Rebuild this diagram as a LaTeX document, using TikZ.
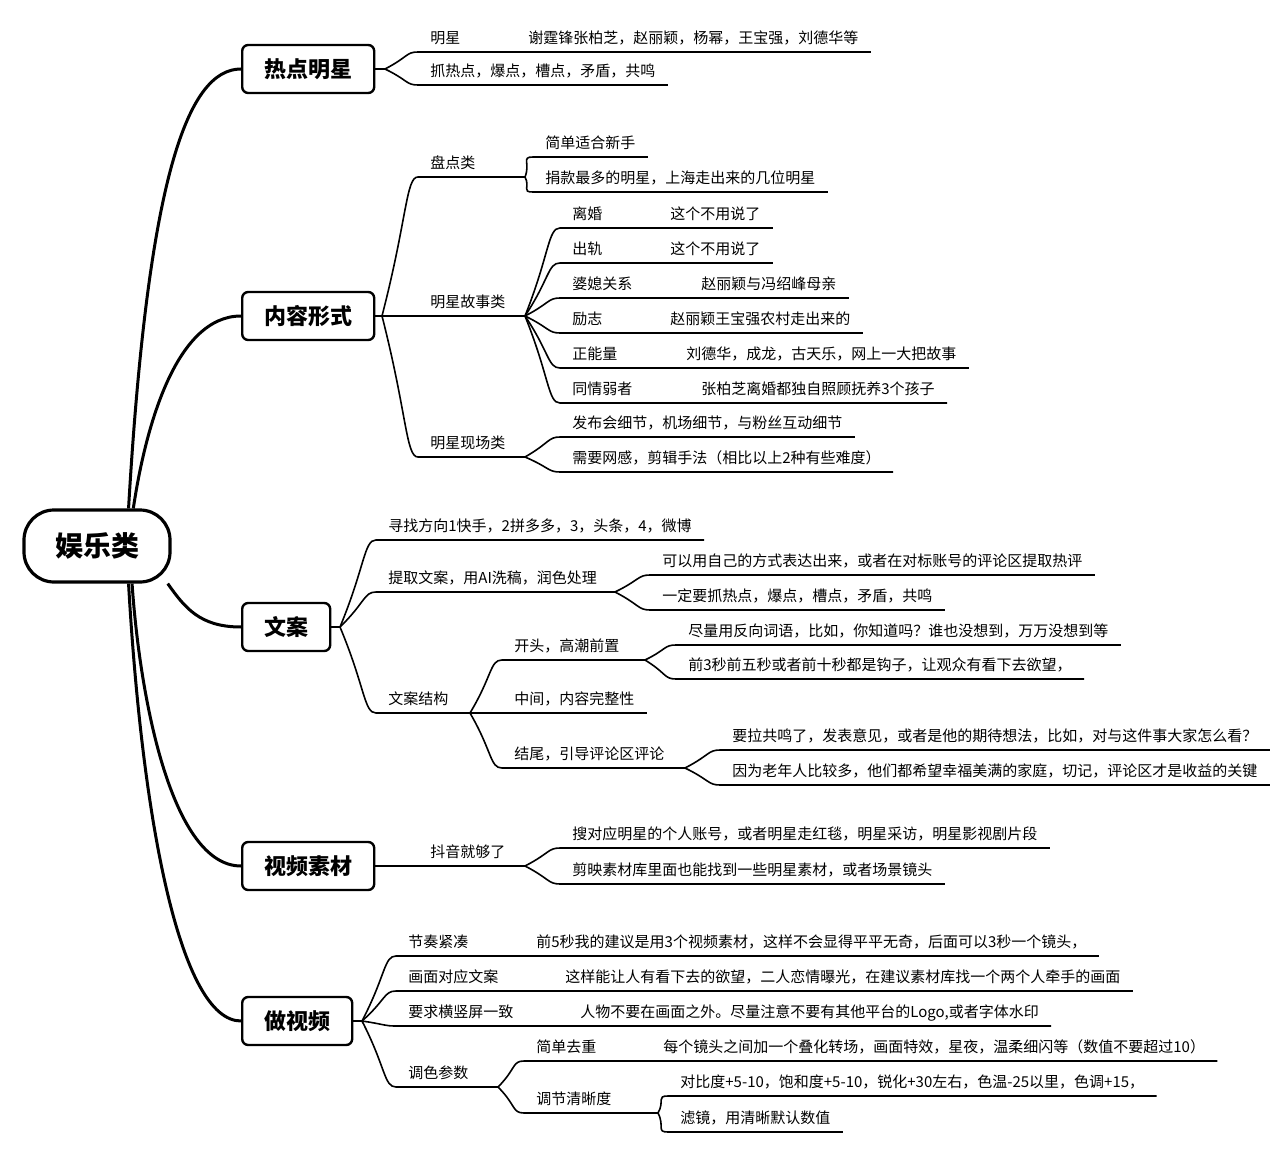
\documentclass[tikz,border=0pt]{standalone}
\usepackage{fontspec}
\setmainfont{Noto Sans CJK SC}
\usetikzlibrary{calc}

\tikzset{
  root/.style={draw, line width=1.6pt, rounded corners=15pt, minimum width=73pt, minimum height=36pt, font=\fontsize{14}{16}\selectfont\bfseries},
  topic/.style={draw, line width=1.2pt, rounded corners=3pt, anchor=west, inner xsep=11pt, minimum height=24pt, font=\fontsize{11}{13}\selectfont\bfseries},
  leaf/.style={anchor=south west, inner xsep=6pt, inner ysep=2.5pt, text height=6.5pt, text depth=1.5pt, font=\fontsize{7.5}{9}\selectfont},
  main/.style={line width=1.5pt},
  twig/.style={line width=0.8pt},
  fork/.style={to path={.. controls ($(\tikztostart)!0.7!(\tikztotarget)$) and ($(\tikztotarget)+(-6pt,0)$) .. (\tikztotarget)}}
}

\begin{document}
\begin{tikzpicture}[x=0.5pt,y=-0.5pt]
\useasboundingbox (0,0) rectangle (1280,1155);

% centre and main topics
\node[root] (root) at (97,546) {娱乐类};
\node[topic] (hot) at (241,69) {热点明星};
\node[topic] (form) at (241,316) {内容形式};
\node[topic] (copy) at (241,627) {文案};
\node[topic] (clip) at (241,866) {视频素材};
\node[topic] (make) at (241,1021) {做视频};

\draw[main] (root.50) .. controls (148,175) and (188,69) .. (hot.west);
\draw[main] (root.46) .. controls (145,430) and (175,316) .. (form.west);
\draw[main] (root.-28) .. controls (185,608) and (200,627) .. (copy.west);
\draw[main] (root.-47) .. controls (140,700) and (172,866) .. (clip.west);
\draw[main] (root.-50) .. controls (142,820) and (180,1021) .. (make.west);

% 热点明星
\coordinate (f-hot) at (385,69);
\node[leaf] (star) at (418,52) {明星};
\node[leaf] (star-d) at (516,52) {谢霆锋张柏芝，赵丽颖，杨幂，王宝强，刘德华等};
\node[leaf] (grab) at (418,85) {抓热点，爆点，槽点，矛盾，共鸣};
\draw[twig] (hot.east) -- (f-hot);
\draw[twig] (f-hot) to[fork] (star.south west) -- (star-d.south east);
\draw[twig] (f-hot) to[fork] (grab.south west) -- (grab.south east);

% 内容形式
\coordinate (f-form) at (382,316);
\draw[twig] (form.east) -- (f-form);
\node[leaf] (pd) at (418,177) {盘点类};
\coordinate (f-pd) at (525,177);
\node[leaf] (pd1) at (533,157) {简单适合新手};
\node[leaf] (pd2) at (533,192) {捐款最多的明星，上海走出来的几位明星};
\draw[twig] (f-form) to[fork] (pd.south west) -- (f-pd);
\foreach \n in {pd1,pd2}
  \draw[twig] (f-pd) to[fork] (\n.south west) -- (\n.south east);

\node[leaf] (story) at (418,316) {明星故事类};
\coordinate (f-story) at (525,316);
\draw[twig] (f-form) -- (story.south west) -- (f-story);
\node[leaf] (s1) at (560,228) {离婚};
\node[leaf] (s1-d) at (658,228) {这个不用说了};
\node[leaf] (s2) at (560,263) {出轨};
\node[leaf] (s2-d) at (658,263) {这个不用说了};
\node[leaf] (s3) at (560,298) {婆媳关系};
\node[leaf] (s3-d) at (689,298) {赵丽颖与冯绍峰母亲};
\node[leaf] (s4) at (560,333) {励志};
\node[leaf] (s4-d) at (658,333) {赵丽颖王宝强农村走出来的};
\node[leaf] (s5) at (560,368) {正能量};
\node[leaf] (s5-d) at (674,368) {刘德华，成龙，古天乐，网上一大把故事};
\node[leaf] (s6) at (560,403) {同情弱者};
\node[leaf] (s6-d) at (689,403) {张柏芝离婚都独自照顾抚养3个孩子};
\foreach \n in {s1,s2,s3,s4,s5,s6}
  \draw[twig] (f-story) to[fork] (\n.south west) -- (\n-d.south east);

\node[leaf] (scene) at (418,457) {明星现场类};
\coordinate (f-scene) at (525,457);
\node[leaf] (sc1) at (560,437) {发布会细节，机场细节，与粉丝互动细节};
\node[leaf] (sc2) at (560,472) {需要网感，剪辑手法（相比以上2种有些难度）};
\draw[twig] (f-form) to[fork] (scene.south west) -- (f-scene);
\foreach \n in {sc1,sc2}
  \draw[twig] (f-scene) to[fork] (\n.south west) -- (\n.south east);

% 文案
\coordinate (f-copy) at (340,627);
\draw[twig] (copy.east) -- (f-copy);
\node[leaf] (find) at (376,540) {寻找方向1快手，2拼多多，3，头条，4，微博};
\draw[twig] (f-copy) to[fork] (find.south west) -- (find.south east);

\node[leaf] (ext) at (376,592) {提取文案，用AI洗稿，润色处理};
\coordinate (f-ext) at (615,592);
\node[leaf] (ext1) at (650,575) {可以用自己的方式表达出来，或者在对标账号的评论区提取热评};
\node[leaf] (ext2) at (650,610) {一定要抓热点，爆点，槽点，矛盾，共鸣};
\draw[twig] (f-copy) to[fork] (ext.south west) -- (f-ext);
\foreach \n in {ext1,ext2}
  \draw[twig] (f-ext) to[fork] (\n.south west) -- (\n.south east);

\node[leaf] (struct) at (376,713) {文案结构};
\coordinate (f-struct) at (470,713);
\draw[twig] (f-copy) to[fork] (struct.south west) -- (f-struct);

\node[leaf] (open) at (502,660) {开头，高潮前置};
\coordinate (f-open) at (645,660);
\node[leaf] (open1) at (676,645) {尽量用反向词语，比如，你知道吗？谁也没想到，万万没想到等};
\node[leaf] (open2) at (676,679) {前3秒前五秒或者前十秒都是钩子，让观众有看下去欲望，};
\draw[twig] (f-struct) to[fork] (open.south west) -- (f-open);
\foreach \n in {open1,open2}
  \draw[twig] (f-open) to[fork] (\n.south west) -- (\n.south east);

\node[leaf] (mid) at (502,713) {中间，内容完整性};
\draw[twig] (f-struct) -- (mid.south west) -- (mid.south east);

\node[leaf] (end) at (502,768) {结尾，引导评论区评论};
\coordinate (f-end) at (685,768);
\node[leaf] (end1) at (720,750) {要拉共鸣了，发表意见，或者是他的期待想法，比如，对与这件事大家怎么看？};
\node[leaf] (end2) at (720,785) {因为老年人比较多，他们都希望幸福美满的家庭，切记，评论区才是收益的关键};
\draw[twig] (f-struct) to[fork] (end.south west) -- (f-end);
\foreach \n in {end1,end2}
  \draw[twig] (f-end) to[fork] (\n.south west) -- (\n.south east);

% 视频素材
\node[leaf] (dy) at (418,866) {抖音就够了};
\coordinate (f-dy) at (525,866);
\node[leaf] (dy1) at (560,848) {搜对应明星的个人账号，或者明星走红毯，明星采访，明星影视剧片段};
\node[leaf] (dy2) at (560,884) {剪映素材库里面也能找到一些明星素材，或者场景镜头};
\draw[twig] (clip.east) -- (dy.south west) -- (f-dy);
\foreach \n in {dy1,dy2}
  \draw[twig] (f-dy) to[fork] (\n.south west) -- (\n.south east);

% 做视频
\coordinate (f-make) at (362,1021);
\draw[twig] (make.east) -- (f-make);
\node[leaf] (m1) at (396,956) {节奏紧凑};
\node[leaf] (m1-d) at (524,956) {前5秒我的建议是用3个视频素材，这样不会显得平平无奇，后面可以3秒一个镜头，};
\node[leaf] (m2) at (396,991) {画面对应文案};
\node[leaf] (m2-d) at (553,991) {这样能让人有看下去的欲望，二人恋情曝光，在建议素材库找一个两个人牵手的画面};
\node[leaf] (m3) at (396,1026) {要求横竖屏一致};
\node[leaf] (m3-d) at (568,1026) {人物不要在画面之外。尽量注意不要有其他平台的Logo,或者字体水印};
\foreach \n in {m1,m2,m3}
  \draw[twig] (f-make) to[fork] (\n.south west) -- (\n-d.south east);

\node[leaf] (tone) at (396,1087) {调色参数};
\coordinate (f-tone) at (498,1087);
\draw[twig] (f-make) to[fork] (tone.south west) -- (f-tone);
\node[leaf] (t1) at (524,1061) {简单去重};
\node[leaf] (t1-d) at (651,1061) {每个镜头之间加一个叠化转场，画面特效，星夜，温柔细闪等（数值不要超过10）};
\draw[twig] (f-tone) to[fork] (t1.south west) -- (t1-d.south east);

\node[leaf] (sharp) at (524,1113) {调节清晰度};
\coordinate (f-sharp) at (658,1113);
\draw[twig] (f-tone) to[fork] (sharp.south west) -- (f-sharp);
\node[leaf] (sh1) at (668,1096) {对比度+5-10，饱和度+5-10，锐化+30左右，色温-25以里，色调+15，};
\node[leaf] (sh2) at (668,1132) {滤镜，用清晰默认数值};
\foreach \n in {sh1,sh2}
  \draw[twig] (f-sharp) to[fork] (\n.south west) -- (\n.south east);
\end{tikzpicture}
\end{document}
